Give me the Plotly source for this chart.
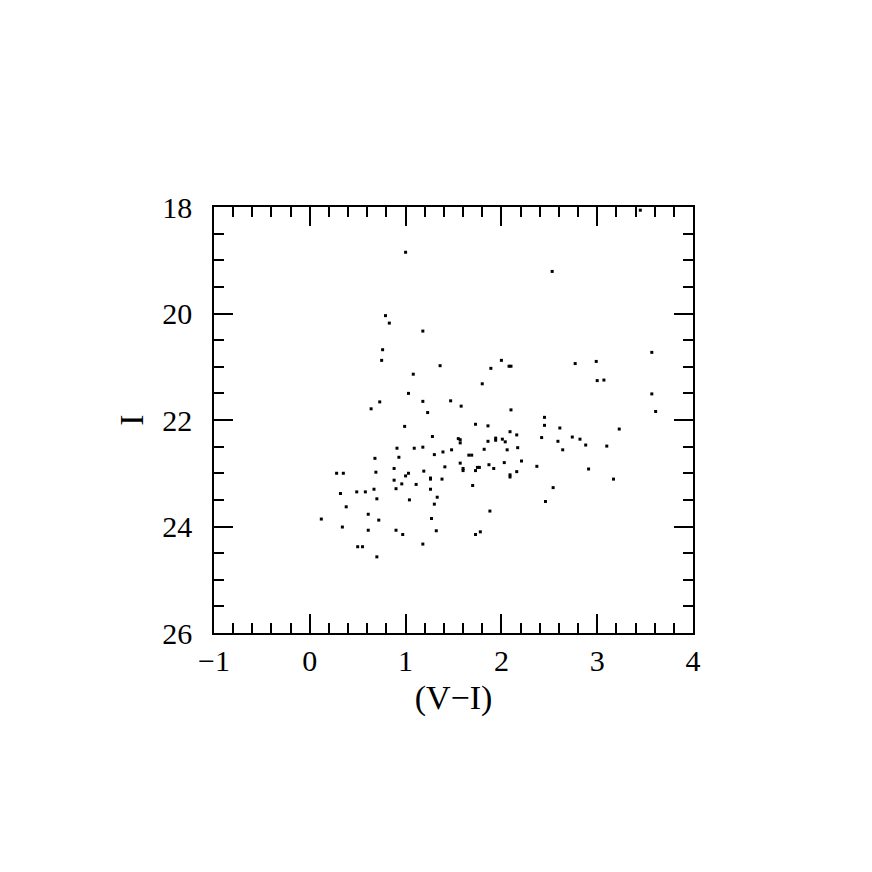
import plotly.graph_objects as go

# colour (V-I) and magnitude I
v_minus_i = [
    1.00, 2.53, 3.45, 0.79, 0.83, 1.18, 0.76, 0.75, 1.08, 1.36,
    1.89, 2.00, 2.08, 2.10, 1.80, 2.77, 2.99, 3.00, 3.07, 3.57,
    3.57, 3.61, 1.03, 0.73, 0.64, 1.18, 1.47, 1.58, 1.23, 2.10,
    2.45, 0.99, 1.73, 1.86, 2.45, 2.61, 3.23, 1.28, 1.55, 1.57,
    1.57, 1.86, 2.09, 2.16, 1.94, 1.94, 2.01, 2.04, 2.42, 2.59,
    2.74, 2.82, 2.88, 3.10, 2.64, 0.91, 1.09, 1.18, 0.93, 1.30,
    1.39, 1.48, 1.66, 1.69, 1.82, 2.06, 2.17, 0.68, 1.57, 2.03,
    2.21, 1.41, 1.60, 1.60, 1.75, 1.77, 1.73, 1.87, 1.92, 2.37,
    2.16, 2.09, 2.09, 2.91, 3.17, 0.28, 0.35, 0.69, 0.88, 1.03,
    1.00, 1.19, 0.88, 1.26, 1.26, 1.38, 0.96, 1.11, 0.90, 0.67,
    0.49, 0.58, 0.32, 1.26, 1.70, 2.54, 0.70, 1.04, 1.33, 2.46,
    0.38, 1.30, 1.88, 0.12, 0.61, 0.72, 1.27, 0.34, 0.61, 0.90,
    0.97, 1.32, 1.73, 1.78, 0.50, 0.55, 1.18, 0.70,
]
mag_i = [
    18.85, 19.21, 18.06, 20.04, 20.18, 20.33, 20.68, 20.88, 21.14, 20.98,
    21.03, 20.88, 20.99, 20.99, 21.32, 20.94, 20.90, 21.26, 21.25, 20.73,
    21.51, 21.84, 21.50, 21.66, 21.79, 21.65, 21.64, 21.74, 21.86, 21.81,
    21.95, 22.12, 22.08, 22.11, 22.10, 22.15, 22.17, 22.31, 22.35, 22.37,
    22.43, 22.40, 22.22, 22.28, 22.34, 22.38, 22.36, 22.41, 22.33, 22.40,
    22.32, 22.36, 22.47, 22.49, 22.56, 22.53, 22.53, 22.51, 22.70, 22.65,
    22.60, 22.56, 22.66, 22.66, 22.55, 22.56, 22.52, 22.72, 22.81, 22.80,
    22.77, 22.88, 22.91, 22.95, 22.89, 22.89, 22.95, 22.84, 22.91, 22.87,
    22.97, 23.03, 23.07, 22.92, 23.11, 23.00, 23.00, 22.98, 22.91, 23.00,
    23.05, 22.96, 23.13, 23.09, 23.11, 23.11, 23.20, 23.21, 23.29, 23.30,
    23.35, 23.35, 23.38, 23.30, 23.23, 23.27, 23.48, 23.50, 23.45, 23.53,
    23.63, 23.58, 23.71, 23.86, 23.77, 23.88, 23.85, 24.01, 24.07, 24.07,
    24.15, 24.08, 24.15, 24.10, 24.38, 24.38, 24.33, 24.57,
]

x_ticks = [-1, 0, 1, 2, 3, 4]
y_ticks = [18, 20, 22, 24, 26]

serif = "Liberation Serif, DejaVu Serif, serif"

fig = go.Figure(go.Scatter(
    x=v_minus_i, y=mag_i,
    mode='markers',
    marker=dict(symbol='square', size=3, color='black', line=dict(width=0)),
    hoverinfo='skip',
))

axis_common = dict(
    showgrid=False, zeroline=False,
    showline=True, linecolor='black', linewidth=1.5,
    mirror='allticks', ticks='inside', ticklen=19, tickwidth=1.5,
    tickcolor='black',
    tickfont=dict(family=serif, size=30, color='black'),
)

# page body has an 8px margin, so the margins are shifted by that
fig.update_layout(
    width=872, height=872,
    paper_bgcolor='white', plot_bgcolor='white',
    margin=dict(l=206, r=187, t=199, b=247),
    showlegend=False,
    xaxis=dict(
        axis_common,
        range=[-1, 4], tickvals=x_ticks, ticklabelstandoff=0,
        minor=dict(dtick=0.2, ticks='inside', ticklen=10, tickwidth=1.5, tickcolor='black'),
        title=dict(text='(V\u2212I)', font=dict(family=serif, size=34, color='black'), standoff=9),
    ),
    yaxis=dict(
        axis_common,
        range=[26, 18], tickvals=y_ticks, ticklabelstandoff=14,
        minor=dict(dtick=0.5, ticks='inside', ticklen=10, tickwidth=1.5, tickcolor='black'),
        title=dict(text='I', font=dict(family=serif, size=34, color='black'), standoff=8),
    ),
)

fig.write_html("out.html")
